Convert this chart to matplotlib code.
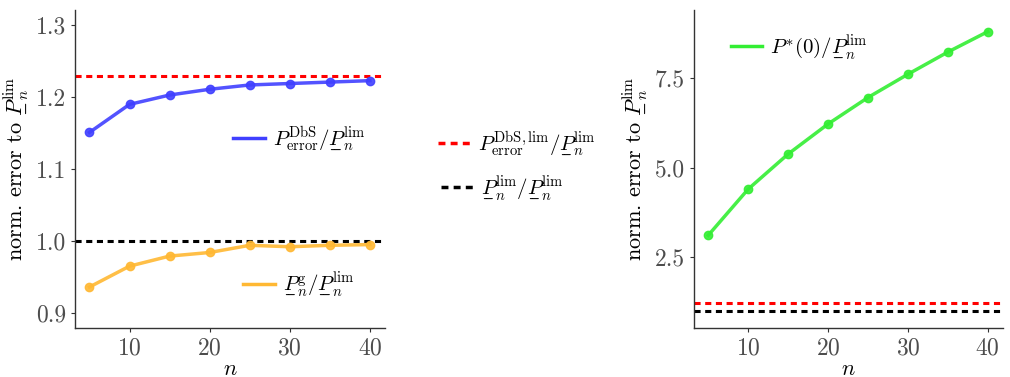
import matplotlib
matplotlib.use("Agg")
import matplotlib.pyplot as plt
from matplotlib.lines import Line2D
from matplotlib.mathtext import MathTextParser

plt.rcParams['mathtext.fontset'] = 'cm'
plt.rcParams['font.family'] = ['cmr10', 'DejaVu Serif']
plt.rcParams['axes.formatter.use_mathtext'] = True
plt.rcParams['axes.unicode_minus'] = False

n_vals = [5, 10, 15, 20, 25, 30, 35, 40]
dbs_ratio = [1.151, 1.190, 1.203, 1.211, 1.217, 1.219, 1.221, 1.223]
greedy_ratio = [0.936, 0.965, 0.979, 0.984, 0.994, 0.992, 0.994, 0.995]
pstar_ratio = [3.11, 4.40, 5.38, 6.22, 6.96, 7.61, 8.23, 8.80]
dbs_lim_ratio = 1.23
lim_ratio = 1.0

left_yticks = [0.9, 1.0, 1.1, 1.2, 1.3]
right_yticks = [2.5, 5.0, 7.5]
xticks = [10, 20, 30, 40]

BLUE = '#4040FF'
ORANGE = '#FFB833'
GREEN = '#33EE33'
RED = '#FF0000'
BLACK = '#000000'
GREY = '#4D4D4D'

# pick an underlined-P construct that mathtext supports
_parser = MathTextParser('path')
UP = 'P'
for cand in [r'\underset{\_\!\!\_}{P}', r'\underset{\_}{P}', r'\underset{-}{P}']:
    try:
        _parser.parse('$' + cand + '$')
        UP = cand
        break
    except Exception:
        pass

lbl_dbs = r'$P^{\mathrm{DbS}}_{\mathrm{error}}/' + UP + r'^{\mathrm{lim}}_{n}$'
lbl_g = '$' + UP + r'^{\mathrm{g}}_{n}/' + UP + r'^{\mathrm{lim}}_{n}$'
lbl_dbslim = r'$P^{\mathrm{DbS,lim}}_{\mathrm{error}}/' + UP + r'^{\mathrm{lim}}_{n}$'
lbl_lim = '$' + UP + r'^{\mathrm{lim}}_{n}/' + UP + r'^{\mathrm{lim}}_{n}$'
lbl_star = r'$P^{*}(0)/' + UP + r'^{\mathrm{lim}}_{n}$'
ylab = r'norm. error to $' + UP + r'^{\mathrm{lim}}_{n}$'

fig = plt.figure(figsize=(10.10, 3.77), dpi=100)
ax1 = fig.add_axes([0.0743, 0.130, 0.307, 0.843])
ax2 = fig.add_axes([0.687, 0.130, 0.306, 0.843])

def style(ax):
    for s in ['top', 'right']:
        ax.spines[s].set_visible(False)
    for s in ['left', 'bottom']:
        ax.spines[s].set_color('#333333')
        ax.spines[s].set_linewidth(1.0)
    ax.tick_params(axis='both', colors='#333333', labelcolor=GREY,
                   labelsize=17, length=3, width=0.8)
    ax.set_xticks(xticks)
    ax.set_xlim(3.2, 41.9)
    ax.set_xlabel(r'$n$', fontsize=16, labelpad=0)
    ax.set_ylabel(ylab, fontsize=16, labelpad=4)

ax1.axhline(dbs_lim_ratio, color=RED, lw=2.2, ls=(0, (2, 1.5)))
ax1.axhline(lim_ratio, color=BLACK, lw=2.2, ls=(0, (2, 1.5)))
ax1.plot(n_vals, dbs_ratio, color=BLUE, lw=2.5, marker='o', ms=6, alpha=0.9)
ax1.plot(n_vals, greedy_ratio, color=ORANGE, lw=2.5, marker='o', ms=6, alpha=0.9)
ax1.set_ylim(0.879, 1.321)
ax1.set_yticks(left_yticks)
ax1.set_yticklabels(['0.9', '1.0', '1.1', '1.2', '1.3'])
style(ax1)

ax2.axhline(dbs_lim_ratio, color=RED, lw=2.2, ls=(0, (2, 1.5)))
ax2.axhline(lim_ratio, color=BLACK, lw=2.2, ls=(0, (2, 1.5)))
ax2.plot(n_vals, pstar_ratio, color=GREEN, lw=2.5, marker='o', ms=6, alpha=0.9)
ax2.set_ylim(0.52, 9.4)
ax2.set_yticks(right_yticks)
ax2.set_yticklabels(['2.5', '5.0', '7.5'])
style(ax2)

def leg(handle_kw, label, x, y):
    h = Line2D([], [], **handle_kw)
    fig.legend([h], [label], loc='center left', bbox_to_anchor=(x, y),
               frameon=False, fontsize=15, borderpad=0, handlelength=1.5,
               handletextpad=0.4, borderaxespad=0)

leg(dict(color=BLUE, lw=2.5), lbl_dbs, 0.231, 0.629)
leg(dict(color=ORANGE, lw=2.5), lbl_g, 0.241, 0.244)
leg(dict(color=RED, lw=2.5, ls=(0, (2, 1.5))), lbl_dbslim, 0.434, 0.618)
leg(dict(color=BLACK, lw=2.5, ls=(0, (2, 1.5))), lbl_lim, 0.437, 0.501)
leg(dict(color=GREEN, lw=2.5), lbl_star, 0.7235, 0.875)

fig.savefig('out.png', dpi=100)
